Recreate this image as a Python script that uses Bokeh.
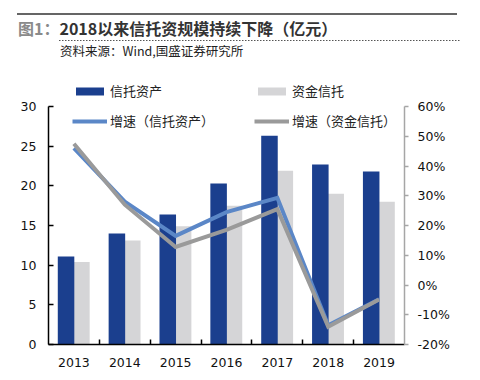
from bokeh.plotting import figure
from bokeh.layouts import column
from bokeh.models import (Range1d, LinearAxis, FixedTicker, Legend, LegendItem,
                          NumeralTickFormatter, ColumnDataSource, Div)
from bokeh.transform import dodge
from bokeh.embed import file_html
from bokeh.resources import INLINE

# ---- data ----
years = [2013, 2014, 2015, 2016, 2017, 2018, 2019]
trust_assets = [11.1, 14.0, 16.4, 20.3, 26.3, 22.7, 21.8]      # 信托资产
fund_trust = [10.4, 13.1, 14.9, 17.5, 21.9, 19.0, 18.0]        # 资金信托
growth_assets = [0.46, 0.28, 0.165, 0.245, 0.293, -0.135, -0.048]  # 增速（信托资产）
growth_fund = [0.475, 0.27, 0.128, 0.185, 0.255, -0.14, -0.049]    # 增速（资金信托）
left_ticks = [0, 5, 10, 15, 20, 25, 30]
right_ticks = [-0.2, -0.1, 0.0, 0.1, 0.2, 0.3, 0.4, 0.5, 0.6]
boundaries = [2013.5, 2014.5, 2015.5, 2016.5, 2017.5, 2018.5]

src = ColumnDataSource(dict(year=years, ta=trust_assets, ft=fund_trust,
                            ga=growth_assets, gf=growth_fund))

BLUE = "#1b3f8e"
LBLUE = "#5b87c7"
GRAY = "#d5d5d7"
DGRAY = "#9a9a9a"
NUM_FONT = "DejaVu Sans"
CJK = "Noto Sans CJK SC"

# frame spans extra room on top for the legend; axes are bounded to the data scale
FRAME_H = 266
AXIS_H = 238
left_top = left_ticks[-1] * FRAME_H / AXIS_H
right_top = right_ticks[0] + (right_ticks[-1] - right_ticks[0]) * FRAME_H / AXIS_H

header = Div(text="""<div style="display:block;width:480px;height:60px;overflow:visible;font-family:'Noto Sans CJK SC',sans-serif;">
<svg xmlns="http://www.w3.org/2000/svg" width="480" height="60" viewBox="0 0 480 60" style="display:block;overflow:visible;">
<rect x="17" y="13.25" width="440" height="1.5" fill="#333333"/>
<line x1="59" y1="40.5" x2="460" y2="40.5" stroke="#555555" stroke-width="1" stroke-dasharray="1.5 1.5"/>
<text x="18" y="27.5" dominant-baseline="central" font-family="Noto Sans CJK SC" font-size="16" font-weight="bold"><tspan fill="#8a8a8a">图1：</tspan><tspan fill="#333333">2018以来信托资规模持续下降（亿元）</tspan></text>
<text x="60" y="50" dominant-baseline="central" font-family="Noto Sans CJK SC" font-size="12.5" fill="#222222">资料来源：Wind,国盛证券研究所</text>
</svg></div>""", width=480, height=60, margin=0)

p = figure(width=480, height=320, output_backend="svg", toolbar_location=None,
           x_range=Range1d(2012.5, 2019.5), y_range=Range1d(0, left_top),
           x_axis_type=None, y_axis_type=None, margin=0)
p.min_border = 0
p.min_border_left = 48
p.min_border_right = 76
p.min_border_top = 18
p.min_border_bottom = 36
p.outline_line_color = None
p.grid.visible = False
p.background_fill_color = "white"
p.border_fill_color = "white"

p.extra_y_ranges = {"pct": Range1d(right_ticks[0], right_top)}

# axes
xa = LinearAxis(ticker=FixedTicker(ticks=years, minor_ticks=boundaries),
                formatter=NumeralTickFormatter(format="0"))
xa.major_tick_in = 0
xa.major_tick_out = 0
xa.minor_tick_in = 5
xa.minor_tick_out = 0
xa.minor_tick_line_color = "black"
xa.minor_tick_line_width = 1.5
xa.axis_line_color = "black"
xa.axis_line_width = 1.5
xa.major_label_standoff = 13
xa.major_label_text_font = NUM_FONT
xa.major_label_text_font_size = "12.5px"
xa.major_label_text_color = "#111111"
p.add_layout(xa, "below")

ya = LinearAxis(ticker=FixedTicker(ticks=left_ticks), bounds=(left_ticks[0], left_ticks[-1]))
ya.major_tick_in = 5
ya.major_tick_out = 0
ya.major_tick_line_color = "black"
ya.major_tick_line_width = 1.5
ya.minor_tick_line_color = None
ya.axis_line_color = "black"
ya.axis_line_width = 1.5
ya.major_label_standoff = 12
ya.major_label_text_font = NUM_FONT
ya.major_label_text_font_size = "12.5px"
ya.major_label_text_color = "#111111"
p.add_layout(ya, "left")

ra = LinearAxis(y_range_name="pct", ticker=FixedTicker(ticks=right_ticks),
                formatter=NumeralTickFormatter(format="0%"),
                bounds=(right_ticks[0], right_ticks[-1]))
ra.major_tick_in = 0
ra.major_tick_out = 4
ra.major_tick_line_color = "#a6a6a6"
ra.major_tick_line_width = 1.5
ra.minor_tick_line_color = None
ra.axis_line_color = "#a6a6a6"
ra.axis_line_width = 1.5
ra.major_label_standoff = 9
ra.major_label_text_font = NUM_FONT
ra.major_label_text_font_size = "12.5px"
ra.major_label_text_color = "#111111"
p.add_layout(ra, "right")

# bars
r_ft = p.vbar(x=dodge("year", 0.152, range=p.x_range), top="ft", width=0.315, source=src,
              fill_color=GRAY, line_color=None)
r_ta = p.vbar(x=dodge("year", -0.155, range=p.x_range), top="ta", width=0.325, source=src,
              fill_color=BLUE, line_color=None)

# lines
r_ga = p.line("year", "ga", source=src, y_range_name="pct", line_color=LBLUE,
              line_width=4, line_join="miter")
r_gf = p.line("year", "gf", source=src, y_range_name="pct", line_color=DGRAY,
              line_width=4, line_join="miter")

# legends
def make_legend(items, loc):
    lg = Legend(items=items, location=loc, orientation="horizontal",
                glyph_width=35, glyph_height=10, label_height=16,
                label_standoff=3, label_width=144, spacing=0,
                padding=0, margin=0, border_line_color=None,
                background_fill_alpha=0,
                label_text_font=CJK, label_text_font_size="13px",
                label_text_color="#222222")
    p.add_layout(lg, "center")

make_legend([LegendItem(label="信托资产", renderers=[r_ta]),
             LegendItem(label="资金信托", renderers=[r_ft])], (24, 244))
make_legend([LegendItem(label="增速（信托资产）", renderers=[r_ga]),
             LegendItem(label="增速（资金信托）", renderers=[r_gf])], (24, 214))

layout = column(header, p, spacing=0, margin=0)
open("out.html", "w").write(file_html(layout, INLINE))
